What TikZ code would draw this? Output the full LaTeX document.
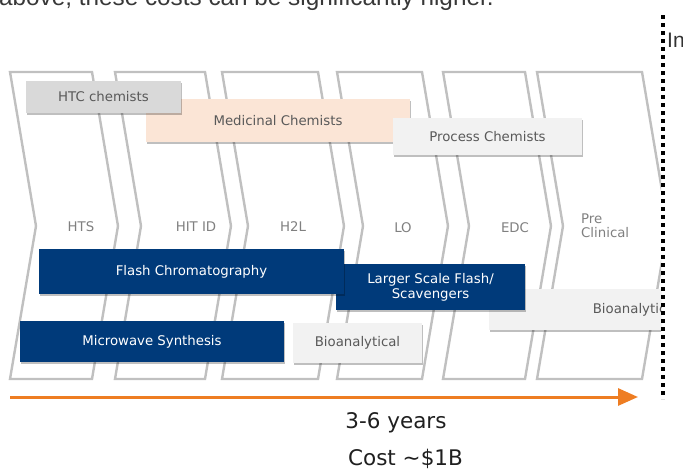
\documentclass[tikz,border=0pt]{standalone}
\usepackage{fontspec}
\setmainfont{DejaVu Sans}
\newfontfamily\arialf{Liberation Sans}
\usetikzlibrary{arrows.meta,shadows}
\definecolor{navy}{RGB}{0,58,122}
\definecolor{chevgray}{RGB}{192,192,192}
\definecolor{labgray}{RGB}{128,128,128}
\definecolor{boxtext}{RGB}{89,89,89}
\definecolor{htcgray}{RGB}{217,217,217}
\definecolor{lightgray2}{RGB}{242,242,242}
\definecolor{peach}{RGB}{251,229,214}
\definecolor{orangearrow}{RGB}{238,125,34}
\begin{document}
\begin{tikzpicture}[x=1pt,y=-1pt,
  chev/.style={draw=chevgray, line width=2.4pt, fill=white, line join=miter},
  stagelabel/.style={text=labgray, font=\fontsize{13.3}{14}\selectfont, inner sep=0pt, anchor=base},
  box/.style={rectangle, inner sep=0pt, font=\fontsize{13.3}{15}\selectfont,
    drop shadow={shadow xshift=1.4pt, shadow yshift=-1.8pt, opacity=0.25, fill=black}},
  bluebox/.style={box, fill=navy, text=white},
  graybox/.style={box, fill=lightgray2, text=boxtext},
  bigtext/.style={font=\fontsize{21.5}{24}\selectfont, text=black!88, inner sep=0pt, anchor=base}
]
\useasboundingbox (0,0) rectangle (683,469);

% header text (cut off at the top)
\node[anchor=base west, inner sep=0pt, font=\arialf\fontsize{24.3}{26}\selectfont, text=black!78] (head) at (-1,5) {above, these costs can be significantly higher.};
\node[anchor=base west, inner sep=0pt, font=\arialf\fontsize{21}{23}\selectfont, text=black!80] (inlab) at (667,47) {In};

\begin{scope}
\clip (0,0) rectangle (661,469);
% chevrons
\foreach \l/\r in {10/92,115/205,222/318,337/422,443/525,537/642}{
  \draw[chev] (\l,72) -- (\r,72) -- (\r+26,226) -- (\r,379) -- (\l,379) -- (\l+26,226) -- cycle;
}
\node[stagelabel] (hts) at (81,231) {HTS};
\node[stagelabel] (hitid) at (196,231) {HIT ID};
\node[stagelabel] (h2l) at (293,231) {H2L};
\node[stagelabel] (lo) at (403,232) {LO};
\node[stagelabel] (edc) at (515,232) {EDC};
\node[stagelabel, anchor=north west, align=left] (precl) at (581,213.3) {Pre\\Clinical};

% role boxes
\node[box, fill=peach, text=boxtext, minimum width=264pt, minimum height=43pt] (med) at (278,120.5) {Medicinal Chemists};
\node[box, fill=htcgray, text=boxtext, minimum width=155pt, minimum height=32pt] (htc) at (103.5,97) {HTC chemists};
\node[graybox, minimum width=189pt, minimum height=37pt] (proc) at (487.5,136.5) {Process Chemists};

% technique boxes
\node[graybox, minimum width=293pt, minimum height=41pt] (bioR) at (635.5,309.5) {Bioanalytical};
\node[bluebox, minimum width=189pt, minimum height=46pt, align=center] (larger) at (430.5,287) {Larger Scale Flash/\\Scavengers};
\node[bluebox, minimum width=305pt, minimum height=45pt] (flash) at (191.5,271.5) {Flash Chromatography};
\node[bluebox, minimum width=264pt, minimum height=41pt] (micro) at (152,341.5) {Microwave Synthesis};
\node[graybox, minimum width=129pt, minimum height=40pt] (bioL) at (357.5,343) {Bioanalytical};
\end{scope}

% timeline arrow
\coordinate (tstart) at (10,397);
\coordinate (tend) at (638,397);
\draw[orangearrow, line width=3pt, -{Triangle[length=20pt,width=17pt]}] (tstart) -- (tend);

% dotted separator
\coordinate (dtop) at (663,15);
\coordinate (dbot) at (663,399);
\draw[black, line width=4.6pt, dash pattern=on 4pt off 4pt] (dtop) -- (dbot);

\node[bigtext] (years) at (396,428) {3-6 years};
\node[bigtext] (cost) at (405.5,465) {Cost \char"223C\$1B};
\end{tikzpicture}
\end{document}
